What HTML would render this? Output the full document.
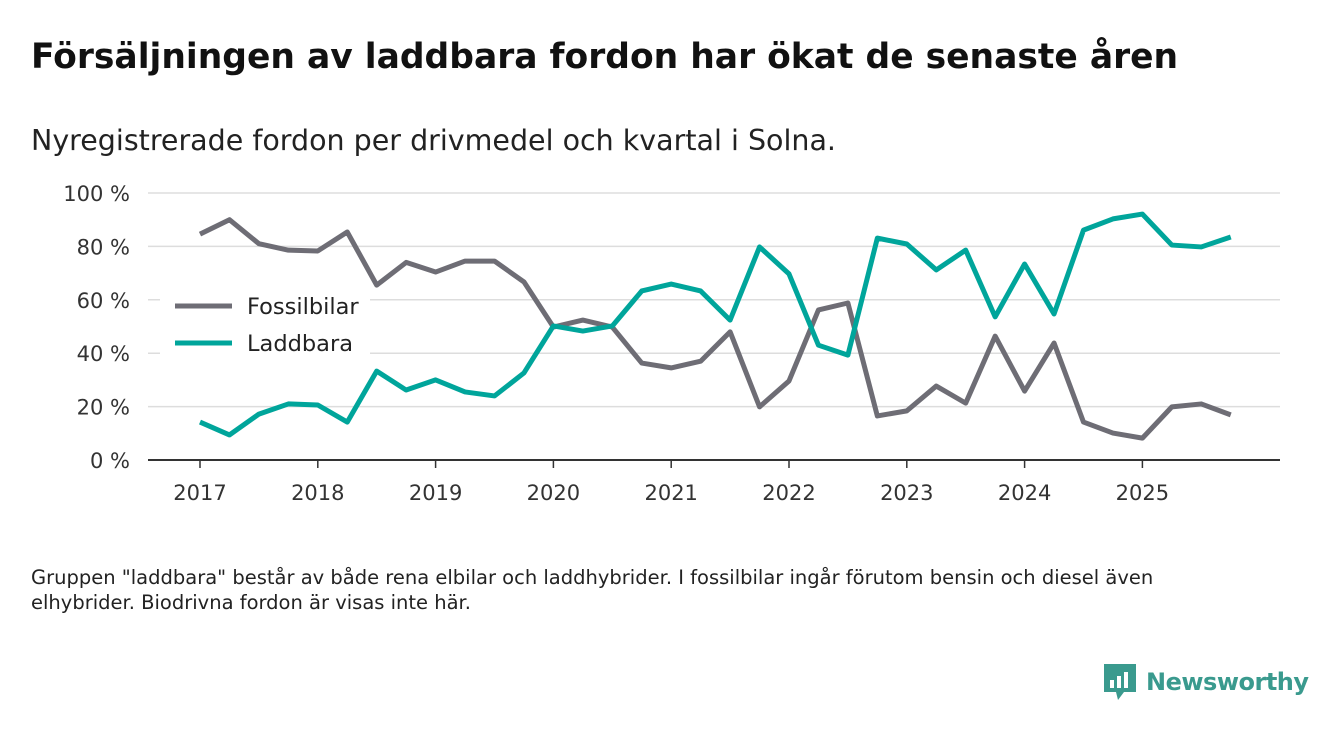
<!DOCTYPE html>
<html><head><meta charset="utf-8">
<style>
body{margin:0;width:1340px;height:733px;background:#fff;font-family:"DejaVu Sans","Liberation Sans",sans-serif;overflow:hidden;position:relative}
h1{position:absolute;left:31px;top:37px;margin:0;font-size:34.5px;font-weight:bold;color:#111;letter-spacing:0px}
.sub{position:absolute;left:31px;top:124px;font-size:28.5px;color:#222}
.note{position:absolute;left:31px;top:565px;font-size:19.5px;color:#222;line-height:25px;width:1215px}
.logo{position:absolute;left:1102px;top:662px;display:flex;align-items:center}
.logo span{font-size:24px;font-weight:bold;color:#3a9a8e;margin-left:8px;letter-spacing:-0.5px}
</style></head><body>
<h1>Försäljningen av laddbara fordon har ökat de senaste åren</h1>
<div class="sub">Nyregistrerade fordon per drivmedel och kvartal i Solna.</div>
<svg id="chart" width="1340" height="733" style="position:absolute;left:0;top:0"></svg>
<div class="note">Gruppen "laddbara" består av både rena elbilar och laddhybrider. I fossilbilar ingår förutom bensin och diesel även elhybrider. Biodrivna fordon är visas inte här.</div>
<div class="logo">
<svg width="36" height="40" viewBox="0 0 36 40"><path d="M2 2h32v28H22l-6 8-2-8H2z" fill="#3a9a8e"/><rect x="8" y="18" width="4" height="8" fill="#fff"/><rect x="15" y="14" width="4" height="12" fill="#fff"/><rect x="22" y="10" width="4" height="16" fill="#fff"/></svg>
<span>Newsworthy</span></div>
<script>
const yTicks=[0,20,40,60,80,100];
const years=[2017,2018,2019,2020,2021,2022,2023,2024,2025];
const fossil=[84.6,90,81,78.6,78.3,85.4,65.5,74,70.4,74.5,74.5,66.7,49.8,52.4,49.8,36.3,34.5,37,48,19.9,29.6,56.2,58.8,16.5,18.4,27.7,21.3,46.4,25.8,43.8,14.2,10.1,8.2,19.9,21,16.9];
const laddbara=[14.2,9.4,17.2,21,20.6,14.2,33.3,26.2,30,25.5,24,32.6,50.2,48.3,50.2,63.3,65.9,63.3,52.4,79.8,69.7,43,39.3,83.1,80.9,71.2,78.6,53.6,73.4,54.7,86.1,90.3,92.1,80.5,79.8,83.5];
const svg=document.getElementById('chart');const NS='http://www.w3.org/2000/svg';
const x=t=>200+(t-2017)*117.8;const y=v=>460-v*2.67;
function mk(tag,a){const e=document.createElementNS(NS,tag);for(const k in a)e.setAttribute(k,a[k]);svg.appendChild(e);return e;}
yTicks.forEach(v=>{
 if(v>0){const g=mk('line',{x1:148,x2:1280,y1:y(v),y2:y(v),stroke:'#ddd','stroke-width':1.5});}
 const t=mk('text',{x:130,y:y(v)+8,'text-anchor':'end','font-size':21,fill:'#333','font-family':'DejaVu Sans,sans-serif'});t.textContent=v+' %';
 
});
const ax=mk('line',{x1:148,x2:1280,y1:460,y2:460,stroke:'#333','stroke-width':2});

years.forEach(yr=>{
 const tk=mk('line',{x1:x(yr),x2:x(yr),y1:460,y2:468,stroke:'#333','stroke-width':1.5});
 
 const t=mk('text',{x:x(yr),y:500,'text-anchor':'middle','font-size':21,fill:'#333','font-family':'DejaVu Sans,sans-serif'});t.textContent=yr;
 
});
function line(d,c,n){const p=mk('polyline',{points:d.map((v,i)=>x(2017+i*0.25)+','+y(v)).join(' '),fill:'none',stroke:c,'stroke-width':5,'stroke-linejoin':'round'});
 }
line(fossil,'#6e6d75','fossilbilar-line');
line(laddbara,'#00a59b','laddbara-line');
const bg=mk('rect',{x:160,y:285,width:210,height:75,fill:'#fff'});

[['Fossilbilar','#6e6d75',306],['Laddbara','#00a59b',343]].forEach(([n,c,yy])=>{
 const l=mk('line',{x1:175,x2:232,y1:yy,y2:yy,stroke:c,'stroke-width':5});
 
 const t=mk('text',{x:247,y:yy+8,'font-size':22.5,fill:'#222','font-family':'DejaVu Sans,sans-serif'});t.textContent=n;
 
});
</script>
</body></html>
